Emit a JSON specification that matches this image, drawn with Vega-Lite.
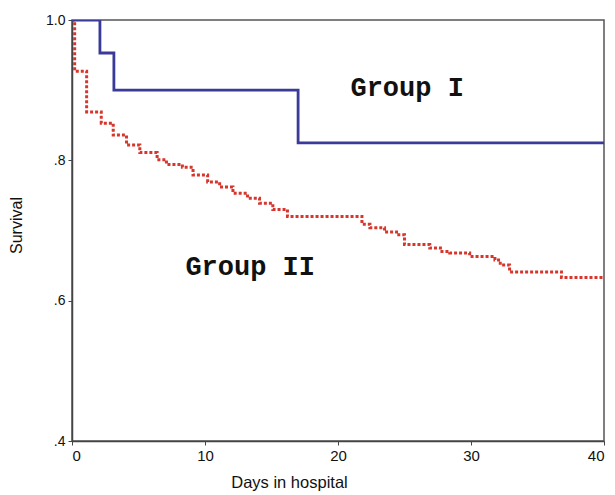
{
  "$schema": "https://vega.github.io/schema/vega-lite/v6.json",
  "autosize": {"type": "none"},
  "padding": {"left": 72, "top": 20, "right": 11, "bottom": 54},
  "width": 532,
  "height": 421,
  "background": "white",
  "config": {
    "view": {"stroke": "#555", "strokeWidth": 1.5},
    "axis": {
      "grid": false,
      "domainColor": "#444",
      "domainWidth": 1.5,
      "tickColor": "#444",
      "tickSize": 4,
      "labelColor": "#111",
      "titleColor": "#111",
      "labelFont": "Liberation Sans",
      "titleFont": "Liberation Sans",
      "titleFontWeight": "normal"
    }
  },
  "datasets": {
    "curves": [
      {"group": "Group I", "day": 0, "survival": 1.0},
      {"group": "Group I", "day": 2.1, "survival": 0.953},
      {"group": "Group I", "day": 3.15, "survival": 0.9},
      {"group": "Group I", "day": 17.0, "survival": 0.825},
      {"group": "Group I", "day": 40, "survival": 0.825},
      {"group": "Group II", "day": 0, "survival": 1.0},
      {"group": "Group II", "day": 0.2, "survival": 0.927},
      {"group": "Group II", "day": 1.1, "survival": 0.869},
      {"group": "Group II", "day": 2.2, "survival": 0.853},
      {"group": "Group II", "day": 3.1, "survival": 0.836},
      {"group": "Group II", "day": 4.1, "survival": 0.822},
      {"group": "Group II", "day": 5.1, "survival": 0.811},
      {"group": "Group II", "day": 6.4, "survival": 0.801},
      {"group": "Group II", "day": 7.1, "survival": 0.794},
      {"group": "Group II", "day": 8.3, "survival": 0.79},
      {"group": "Group II", "day": 9.1, "survival": 0.779},
      {"group": "Group II", "day": 10.2, "survival": 0.769},
      {"group": "Group II", "day": 11.1, "survival": 0.762},
      {"group": "Group II", "day": 12.1, "survival": 0.753},
      {"group": "Group II", "day": 13.2, "survival": 0.746},
      {"group": "Group II", "day": 14.1, "survival": 0.739},
      {"group": "Group II", "day": 15.1, "survival": 0.73},
      {"group": "Group II", "day": 16.2, "survival": 0.72},
      {"group": "Group II", "day": 21.8, "survival": 0.709},
      {"group": "Group II", "day": 22.4, "survival": 0.704},
      {"group": "Group II", "day": 23.5, "survival": 0.698},
      {"group": "Group II", "day": 24.4, "survival": 0.694},
      {"group": "Group II", "day": 25.0, "survival": 0.68},
      {"group": "Group II", "day": 26.9, "survival": 0.675},
      {"group": "Group II", "day": 27.7, "survival": 0.67},
      {"group": "Group II", "day": 28.4, "survival": 0.668},
      {"group": "Group II", "day": 29.9, "survival": 0.663},
      {"group": "Group II", "day": 31.8, "survival": 0.658},
      {"group": "Group II", "day": 32.2, "survival": 0.651},
      {"group": "Group II", "day": 32.9, "survival": 0.641},
      {"group": "Group II", "day": 36.8, "survival": 0.633},
      {"group": "Group II", "day": 40, "survival": 0.633}
    ],
    "labels": [
      {"label": "Group I", "day": 25.2, "survival": 0.903},
      {"label": "Group II", "day": 13.4, "survival": 0.648}
    ]
  },
  "encoding": {
    "x": {
      "field": "day", "type": "quantitative",
      "scale": {"domain": [0, 40], "nice": false, "zero": false},
      "axis": {"values": [0, 10, 20, 30, 40], "title": "Days in hospital", "labelFontSize": 15, "titleFontSize": 16.5, "labelPadding": 3, "titlePadding": 11, "titleX": 217, "titleAlign": "center"}
    },
    "y": {
      "field": "survival", "type": "quantitative",
      "scale": {"domain": [0.4, 1.0], "nice": false, "zero": false},
      "axis": {"values": [0.4, 0.6, 0.8, 1.0], "title": "Survival", "labelFontSize": 14, "titleFontSize": 16, "labelPadding": 3, "titlePadding": 21, "titleY": 205,
        "labelExpr": "datum.value == 1 ? '1.0' : replace(format(datum.value, '.1f'), '0.', '.')"}
    }
  },
  "layer": [
    {
      "data": {"name": "curves"},
      "transform": [{"filter": "datum.group == 'Group II'"}],
      "mark": {"type": "line", "interpolate": "step-after", "color": "#d6362c", "strokeWidth": 3, "strokeDash": [3, 2], "clip": true}
    },
    {
      "data": {"name": "curves"},
      "transform": [{"filter": "datum.group == 'Group I'"}],
      "mark": {"type": "line", "interpolate": "step-after", "color": "#3a3a99", "strokeWidth": 2.8, "clip": true}
    },
    {
      "data": {"name": "labels"},
      "mark": {"type": "text", "font": "Liberation Mono", "fontWeight": "bold", "fontSize": 27, "color": "#111", "align": "center", "baseline": "middle"},
      "encoding": {"text": {"field": "label"}}
    }
  ]
}
